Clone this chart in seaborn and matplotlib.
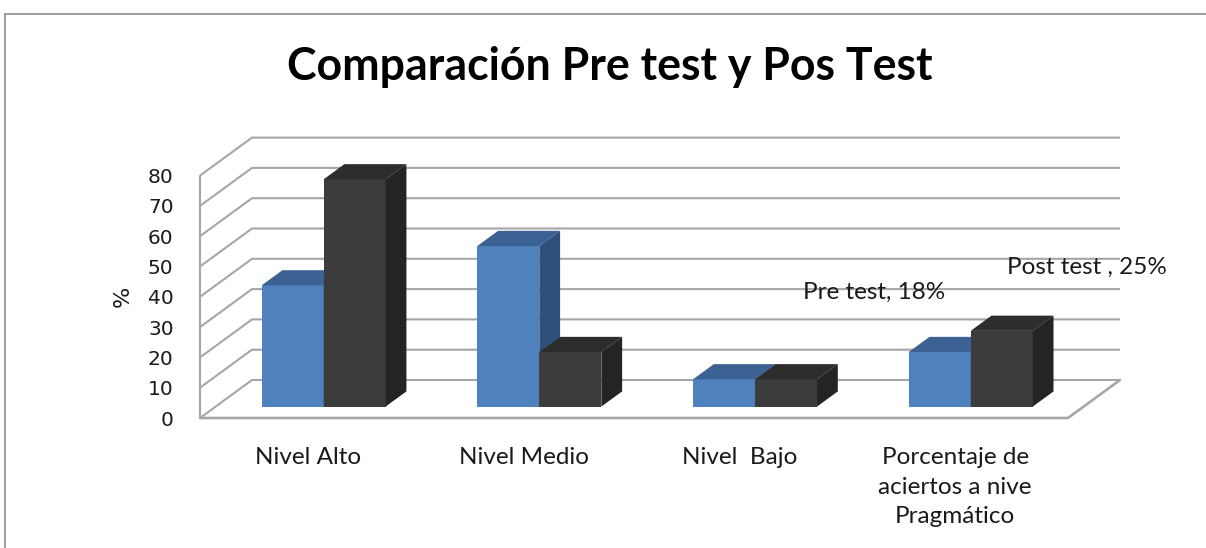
import matplotlib
matplotlib.use("Agg")
import numpy as np
import pandas as pd
import matplotlib.pyplot as plt
import seaborn as sns
from matplotlib.patches import Polygon
from matplotlib.lines import Line2D

# ---------------- data ----------------
categorias = ["Nivel Alto", "Nivel Medio", "Nivel  Bajo",
              "Porcentaje de\naciertos a nive\nPragmático"]
series = ["Pre test", "Post test"]
pre_test = [40, 53, 9, 18]
post_test = [75, 18, 9, 25]
ticks_y = [0, 10, 20, 30, 40, 50, 60, 70, 80]
titulo = "Comparación Pre test y Pos Test"
eje_y = "%"

df = pd.DataFrame({
    "categoria": categorias * 2,
    "serie": [series[0]] * len(categorias) + [series[1]] * len(categorias),
    "valor": pre_test + post_test,
})

# ---------------- style ----------------
sns.set_theme(style="white")
plt.rcParams["font.family"] = ["Lato", "DejaVu Sans"]
TXT = "#1a1a1a"
GRID = "#A6A6A6"
colores = {  # front, top, side
    "Pre test": ("#4F81BD", "#3C6294", "#2F4F7C"),
    "Post test": ("#3C3C3C", "#2D2D2D", "#242424"),
}

W, H = 1206, 548
fig = plt.figure(figsize=(W / 100, H / 100), dpi=100)
fig.patch.set_facecolor("white")

# front plane of the floor (pixels)
L_px, R_px, B_px = 200, 1068, 418
PX_PER_UNIT = 3.03
ax = fig.add_axes([L_px / W, (H - B_px) / H, (R_px - L_px) / W,
                   ticks_y[-1] * PX_PER_UNIT / H])
ax.set_facecolor("none")

sns.barplot(data=df, x="categoria", y="valor", hue="serie",
            order=categorias, hue_order=series,
            palette=[colores[s][0] for s in series], saturation=1,
            width=0.575, legend=False, ax=ax, linewidth=0, edgecolor="none")

xl, xr = -0.5007, 3.5234
ax.set_xlim(xl, xr)
ax.set_ylim(ticks_y[0], ticks_y[-1])
px_per_x = (R_px - L_px) / (xr - xl)

# oblique depth vector (full floor depth) in data units
DX = 52 / px_per_x
DY = 38 / PX_PER_UNIT
f0, f1 = 0.30, 0.70

# walls & floor
lw = 1.5
for v in ticks_y:
    ax.plot([xl, xl + DX, xr + DX], [v, v + DY, v + DY], color=GRID, lw=lw,
            clip_on=False, zorder=1, solid_capstyle="butt")
ax.plot([xl, xl], [ticks_y[0], ticks_y[-1]], color=GRID, lw=lw, clip_on=False, zorder=1)
ax.plot([xl, xr, xr + DX], [0, 0, DY], color=GRID, lw=lw + 0.4, clip_on=False, zorder=1)

# 3D bars
bdx, bdy = (f1 - f0) * DX, (f1 - f0) * DY
for k, (s, cont) in enumerate(zip(series, ax.containers)):
    z = 3 + k
    _, c_top, c_side = colores[s]
    for p in cont.patches:
        x0 = p.get_x() + f0 * DX
        y0 = f0 * DY
        w, h = p.get_width(), p.get_height()
        p.set_x(x0)
        p.set_y(y0)
        p.set_zorder(z)
        p.set_clip_on(False)
        top = Polygon([(x0, y0 + h), (x0 + w, y0 + h),
                       (x0 + w + bdx, y0 + h + bdy), (x0 + bdx, y0 + h + bdy)],
                      closed=True, facecolor=c_top, edgecolor="none",
                      zorder=z, clip_on=False)
        side = Polygon([(x0 + w, y0), (x0 + w + bdx, y0 + bdy),
                        (x0 + w + bdx, y0 + h + bdy), (x0 + w, y0 + h)],
                       closed=True, facecolor=c_side, edgecolor="none",
                       zorder=z, clip_on=False)
        ax.add_patch(top)
        ax.add_patch(side)

# data labels for last category
p_pre = ax.containers[0].patches[3]
p_post = ax.containers[1].patches[3]
ax.annotate(f"{series[0]}, {pre_test[3]}%",
            xy=(p_pre.get_x() + p_pre.get_width() / 2, p_pre.get_y() + p_pre.get_height()),
            xytext=(-47.5, 43.2), textcoords="offset points",
            ha="center", va="center", fontsize=17.5, color=TXT, zorder=6)
ax.annotate(f"{series[1]} , {post_test[3]}%",
            xy=(p_post.get_x() + p_post.get_width() / 2, p_post.get_y() + p_post.get_height()),
            xytext=(61.2, 45.4), textcoords="offset points",
            ha="center", va="center", fontsize=17.5, color=TXT, zorder=6)

# axes text
for sp in ax.spines.values():
    sp.set_visible(False)
ax.set_yticks(ticks_y)
ax.set_yticklabels([str(t) for t in ticks_y], fontfamily="DejaVu Sans")
ax.tick_params(axis="y", length=0, pad=19, labelsize=14.5, labelcolor=TXT)
ax.set_xticks(range(len(categorias)))
ax.set_xticklabels(categorias)
ax.tick_params(axis="x", length=0, pad=21, labelsize=17.5, labelcolor=TXT)
for lab in ax.get_xticklabels():
    lab.set_linespacing(1.5)
    lab.set_multialignment("center")
ax.set_xlabel("")
ax.set_ylabel(eje_y, fontsize=16, color=TXT, fontfamily="DejaVu Sans")
ax.yaxis.set_label_coords(-0.077, 0.5)
ax.grid(False)

# title, fitted to width
t = fig.text(610 / W, 1 - 80 / H, titulo, ha="center", va="baseline",
             fontweight="bold", fontsize=30, color="black")
fig.canvas.draw()
wpx = t.get_window_extent().width
t.set_fontsize(30 * 645 / wpx)

# chart frame
fig.add_artist(Line2D([5 / W, 1], [1 - 14 / H, 1 - 14 / H], color="#8C8C8C",
                      lw=1.2, transform=fig.transFigure))
fig.add_artist(Line2D([5 / W, 5 / W], [0, 1 - 14 / H], color="#8C8C8C",
                      lw=1.2, transform=fig.transFigure))

fig.savefig("out.png", dpi=100, facecolor="white")
